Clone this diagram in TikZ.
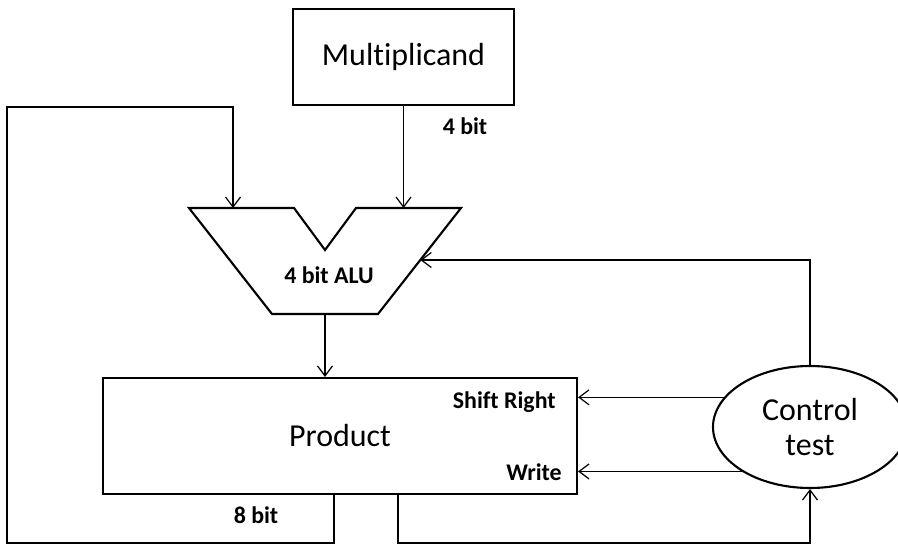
\documentclass[tikz,border=0pt]{standalone}
\usepackage{fontspec}
\setmainfont{Carlito}[Ligatures=NoCommon]
\usetikzlibrary{arrows.meta,positioning,calc,shapes.geometric}
\tikzset{
  regbox/.style={draw,line width=1.2pt,align=center,font=\fontsize{18.2}{20.4}\selectfont,inner sep=0pt},
  ctlnode/.style={regbox,ellipse,minimum width=3.88cm,minimum height=2.44cm},
  tag/.style={font=\bfseries\fontsize{13.6}{16}\selectfont,inner sep=0pt},
  flow/.style={-{Straight Barb[length=2mm,width=3mm]},line width=0.7pt},
}

\begin{document}
\begin{tikzpicture}
  \useasboundingbox (0,0) rectangle (17.96,-10.92);
  \node[regbox,minimum width=4.42cm,minimum height=1.92cm] (mcand) at (8.07,-1.14) {Multiplicand};
  % the ALU
  \draw[line width=1.2pt] (3.78,-4.16) -- (5.88,-4.16) -- (6.5,-5.0) -- (7.12,-4.16) -- (9.22,-4.16) -- (7.56,-6.28) -- (5.44,-6.28) -- cycle;
  \coordinate (aluA) at (4.66,-4.16);
  \coordinate (aluB) at (mcand.south |- aluA);
  \coordinate (aluC) at (8.406,-5.2);
  \coordinate (aluout) at (6.5,-6.28);
  \node[tag] (alu) at (6.58,-5.5) {4 bit ALU};
  \node[regbox,minimum width=9.48cm,minimum height=2.32cm] (prod) at (6.80,-8.72) {Product};
  \node[ctlnode] (ctl) at (16.2,-8.54) {Control\\test};
  \node[tag] (mlbl) at (9.3,-2.52) {4 bit};
  \node[tag,anchor=east] (shlbl) at (11.12,-8.04) {Shift Right};
  \node[tag,anchor=east] (wrlbl) at (11.24,-9.44) {Write};
  \node[tag] (plbl) at (5.12,-10.3) {8 bit};
  % connectors
  \draw[flow] (mcand.south) -- (aluB);
  \draw[flow] (aluout) -- (aluout |- prod.north);
  \draw[flow] (ctl.north) |- (aluC);
  \foreach \a in {161,213} \draw[flow] (ctl.\a) -- (ctl.\a -| prod.east);
  \coordinate (pA) at ($(prod.south west)+(4.64,0)$);
  \coordinate (pB) at ($(prod.south west)+(5.92,0)$);
  \coordinate (lowrow) at (0,-10.86);
  \coordinate (fbtop) at (0.14,-2.14);
  \draw[flow] (pB) -- (pB |- lowrow) -| (ctl.south);
  \draw[flow] (pA) -- (pA |- lowrow) -| (fbtop) -| (aluA);
\end{tikzpicture}
\end{document}
